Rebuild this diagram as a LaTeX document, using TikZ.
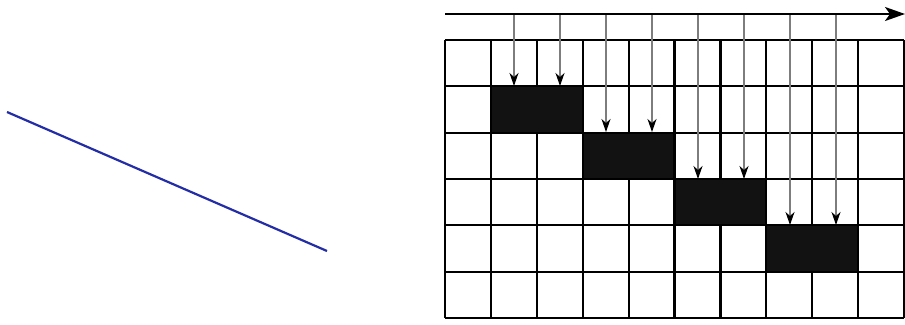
\documentclass[tikz,border=0pt]{standalone}
\usetikzlibrary{arrows.meta}
\definecolor{lineblue}{RGB}{35,45,165}
\definecolor{arrgray}{RGB}{125,125,125}
\definecolor{cellblack}{RGB}{18,18,18}
\tikzset{
  gridline/.style={line width=2.2pt, black},
  blackcell/.style={fill=cellblack, draw=black, line width=2.2pt},
  probe/.style={arrgray, line width=1.2pt, -{Stealth[black,length=13pt,width=9pt,inset=4pt]}},
  axisarrow/.style={line width=2.2pt, -{Stealth[length=20pt,width=14pt,inset=5pt]}},
}
\begin{document}
\begin{tikzpicture}[x=1pt,y=-1pt]
\useasboundingbox (0,0) rectangle (905,324);
% blue line
\coordinate (b1) at (7,112);
\coordinate (b2) at (327,251);
\draw[lineblue, line width=2.2pt] (b1) -- (b2);
% grid
\foreach \i in {0,...,10} {
  \draw[gridline] ({445+\i*45.9},40) -- ({445+\i*45.9},318);
}
\foreach \j in {0,...,6} {
  \draw[gridline] (445,{40+\j*46.33}) -- (904,{40+\j*46.33});
}
% black cells
\filldraw[blackcell] (491,86.3) rectangle (582.8,132.7);
\filldraw[blackcell] (582.8,132.7) rectangle (674.5,179);
\filldraw[blackcell] (674.5,179) rectangle (766.3,225.3);
\filldraw[blackcell] (766.3,225.3) rectangle (858.1,271.7);
% top arrow
\coordinate (a0) at (445,14);
\coordinate (a1) at (905,14);
\draw[axisarrow] (a0) -- (a1);
% probe arrows
\foreach \x/\y in {514/86,560/86,606/132,652/132,698/179,744/179,790/225,836/225} {
  \draw[probe] (\x,15) -- (\x,\y);
}
\end{tikzpicture}
\end{document}
